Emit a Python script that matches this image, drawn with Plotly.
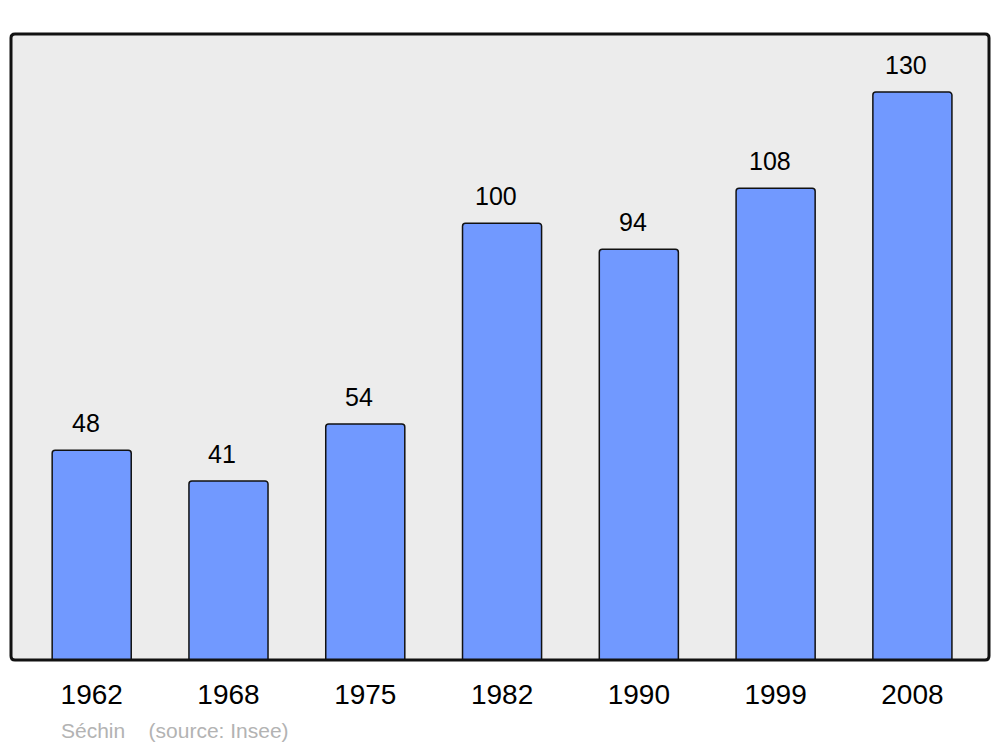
import plotly.graph_objects as go

years = ["1962", "1968", "1975", "1982", "1990", "1999", "2008"]
population = [48, 41, 54, 100, 94, 108, 130]

# page body has an 8px margin in the browser; compensate
W, H = 992, 739
ml, mr, mt, mb = 3, 11, 26, 87
off = 8
pw = W - ml - mr
ph = H - mt - mb

fig = go.Figure()
fig.add_trace(go.Bar(
    x=years, y=population, width=0.578,
    marker=dict(color="#7199ff", line=dict(color="#111111", width=1.5)),
    hoverinfo="skip",
))

for i, v in enumerate(population):
    fig.add_annotation(x=i, y=v, text=str(v), showarrow=False,
                       yanchor="bottom", yshift=11, xshift=-6,
                       font=dict(family="Liberation Sans, Arial", size=25, color="#000000"))

fig.add_annotation(xref="paper", yref="paper", x=(59 - off - ml) / pw,
                   y=-(730 - off - (H - mb)) / ph,
                   text="Séchin&nbsp;&nbsp;&nbsp;&nbsp;(source: Insee)", showarrow=False,
                   xanchor="left", yanchor="middle",
                   font=dict(family="Liberation Sans, Arial", size=21, color="#b3b3b3"))

# rounded plot frame
rx, ry = 4 / pw, 4 / ph
path = (f"M {rx} 0 L {1-rx} 0 Q 1 0 1 {ry} L 1 {1-ry} Q 1 1 {1-rx} 1 "
        f"L {rx} 1 Q 0 1 0 {1-ry} L 0 {ry} Q 0 0 {rx} 0 Z")
fig.add_shape(type="path", xref="paper", yref="paper", path=path,
              line=dict(color="#111111", width=3), layer="above")

fig.update_layout(
    width=W, height=H,
    margin=dict(l=ml, r=mr, t=mt, b=mb),
    paper_bgcolor="white", plot_bgcolor="#ececec",
    showlegend=False,
    barcornerradius=3,
    font=dict(family="Liberation Sans, Arial"),
)
fig.update_xaxes(type="category", range=[-0.59, 6.56], showgrid=False, zeroline=False, ticks="",
                 ticklabelstandoff=15,
                 tickfont=dict(family="Liberation Sans, Arial", size=28, color="#000000"))
fig.update_yaxes(range=[0, 143.3], showgrid=False, zeroline=False, showticklabels=False)

fig.write_html("out.html")
